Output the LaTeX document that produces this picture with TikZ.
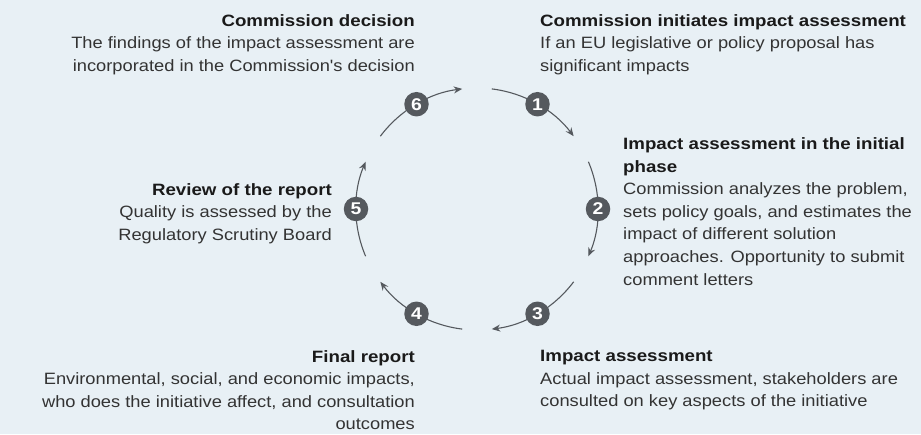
\documentclass[tikz,border=0pt]{standalone}
\usepackage{fontspec}
\setmainfont{Liberation Sans}[Ligatures=TeXOff, FakeStretch=1.115,
  BoldFeatures={FakeStretch=1.14}]
\usetikzlibrary{arrows.meta,calc}
\definecolor{bg}{HTML}{E8F0F5}
\definecolor{badge}{HTML}{55595E}
\definecolor{arcc}{HTML}{55595E}
\definecolor{titlec}{HTML}{1A1A1A}
\definecolor{bodyc}{HTML}{333333}
\begin{document}
\begin{tikzpicture}[x=1pt,y=1pt,
  txt/.style={inner sep=0pt, font=\fontsize{16.4}{22.6}\selectfont, text=bodyc},
  badgenode/.style={circle, fill=badge, minimum size=24.5pt, inner sep=0pt, text=white,
    font=\fontsize{17}{17}\selectfont\bfseries},
  cyc/.style={draw=arcc, line width=1.1pt, -{Stealth[length=8.5pt,width=7pt]}}]
\fill[bg] (0,0) rectangle (921,434);
\useasboundingbox (0,0) rectangle (921,434);
\coordinate (c) at (477,225);
\foreach \i/\a in {1/60,2/0,3/-60,4/-120,5/180,6/120} {
  \pgfmathsetmacro\sa{\a+23}
  \pgfmathsetmacro\ea{\a-23}
  \draw[cyc] ($(c)+(\sa:121)$) coordinate (s\i) arc[start angle=\sa, end angle=\ea, radius=121];
  \node[badgenode] (n\i) at ($(c)+(\a:121)$) {\i};
}
\newcommand\ttl[1]{{\bfseries\color{titlec}#1}}
\node[txt, anchor=north east, align=right] (tA) at (415,420)
  {\ttl{Commission decision}\\The findings of the impact assessment are\\incorporated in the Commission's decision};
\node[txt, anchor=north west, align=left] (tB) at (540,420)
  {\ttl{Commission initiates impact assessment}\\If an EU legislative or policy proposal has\\significant impacts};
\node[txt, anchor=north west, align=left] (tC) at (623,296.5)
  {\ttl{Impact assessment in the initial}\\\ttl{phase}\\Commission analyzes the problem,\\sets policy goals, and estimates the\\impact of different solution\\approaches. Opportunity to submit\\comment letters};
\node[txt, anchor=north east, align=right] (tD) at (332,251)
  {\ttl{Review of the report}\\Quality is assessed by the\\Regulatory Scrutiny Board};
\node[txt, anchor=north east, align=right] (tE) at (415,84)
  {\ttl{Final report}\\Environmental, social, and economic impacts,\\who does the initiative affect, and consultation\\outcomes};
\node[txt, anchor=north west, align=left] (tF) at (540,84)
  {\ttl{Impact assessment}\\Actual impact assessment, stakeholders are\\consulted on key aspects of the initiative};
\end{tikzpicture}
\end{document}
